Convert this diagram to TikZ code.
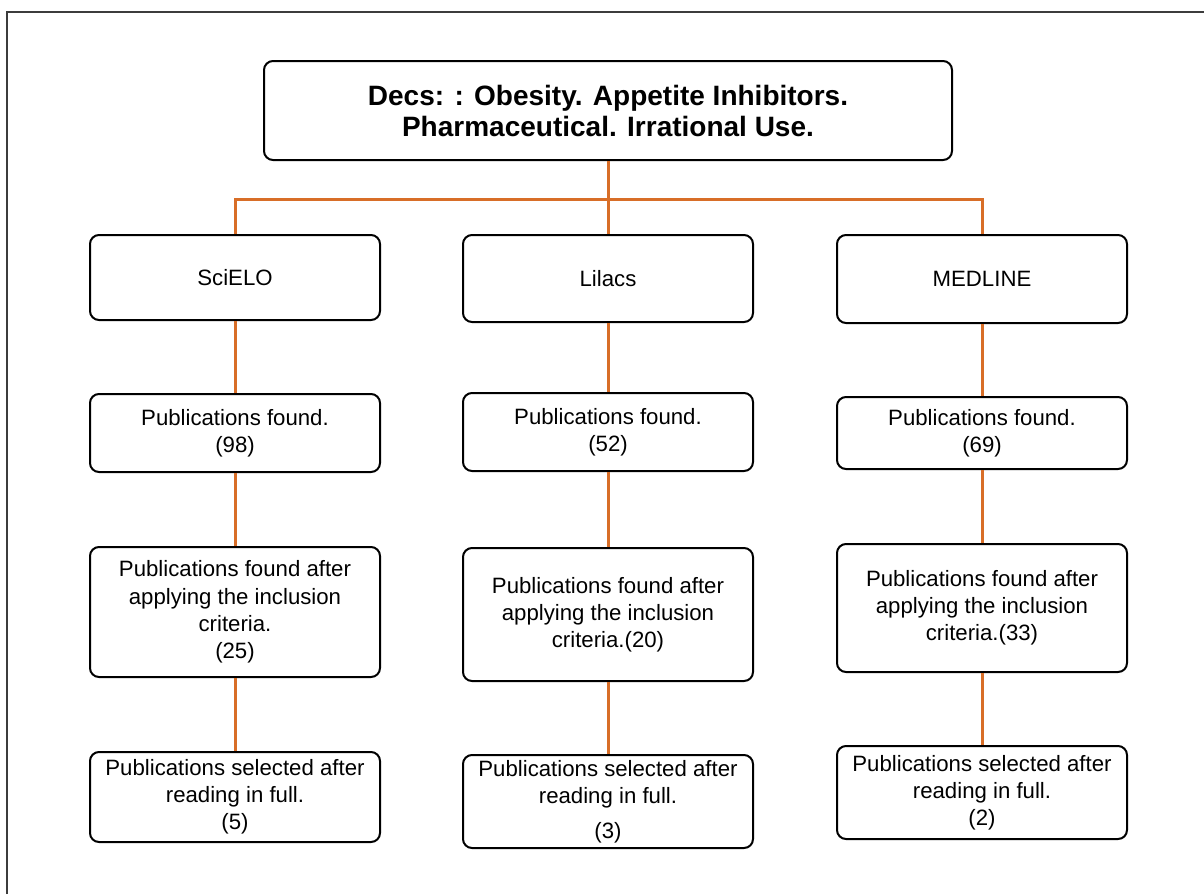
\documentclass[tikz,border=0pt]{standalone}
\usepackage{fontspec}
\setmainfont{Liberation Sans}
\usepackage{tikz}
\usetikzlibrary{positioning}
\usepackage{xcolor}
\definecolor{lkorange}{RGB}{216,110,40}
\definecolor{frgray}{RGB}{60,60,60}
\tikzstyle{box} = [rectangle, rounded corners=4.5pt, draw=black, line width=1pt, fill=white, align=center, inner sep=2pt, minimum width=145pt, font=\fontsize{11.1}{13.6}\selectfont]
\tikzstyle{link} = [line width=1.5pt, color=lkorange]

\begin{document}
\begin{tikzpicture}[x=0.5pt,y=-0.5pt]
\useasboundingbox (0,0) rectangle (1204,894);
% Frame
\draw[frgray, line width=1pt] (7,894) -- (7,12) -- (1204,12);

% Keywords
\node[box, minimum width=344pt, minimum height=49.5pt, font=\fontsize{14}{15.5}\selectfont\bfseries] (dec) at (608,110.5) {Decs: : Obesity. Appetite Inhibitors.\\Pharmaceutical. Irrational Use.};

% Databases
\node[box, minimum height=42.5pt] (sci) at (235,277.5) {SciELO};
\node[box, minimum height=43.5pt] (lil) at (608,278.5) {Lilacs};
\node[box, minimum height=44pt] (med) at (982,279) {MEDLINE};

% Found
\node[box, minimum height=39pt] (sci2) at (235,433) {Publications found.\\(98)};
\node[box, minimum height=39pt] (lil2) at (608,432) {Publications found.\\(52)};
\node[box, minimum height=36pt] (med2) at (982,433) {Publications found.\\(69)};

% Inclusion criteria
\node[box, minimum height=65pt] (sci3) at (235,612) {Publications found after\\applying the inclusion\\criteria.\\(25)};
\node[box, minimum height=66.5pt] (lil3) at (608,614.5) {Publications found after\\applying the inclusion\\criteria.(20)};
\node[box, minimum height=64pt] (med3) at (982,608) {Publications found after\\applying the inclusion\\criteria.(33)};

% Selected
\node[box, minimum height=45pt] (sci4) at (235,797) {Publications selected after\\reading in full.\\(5)};
\node[box, minimum height=46.5pt] (lil4) at (608,801.5) {Publications selected after\\reading in full.\\[4pt](3)};
\node[box, minimum height=46.5pt] (med4) at (982,792.5) {Publications selected after\\reading in full.\\(2)};

% Links
\coordinate (split) at (608,199);
\draw[link] (dec.south) -- (split);
\draw[link] (sci.north) |- (split) -| (med.north);
\draw[link] (split) -- (lil.north);

\draw[link] (sci) -- (sci2);
\draw[link] (sci2) -- (sci3);
\draw[link] (sci3) -- (sci4);
\draw[link] (lil) -- (lil2);
\draw[link] (lil2) -- (lil3);
\draw[link] (lil3) -- (lil4);
\draw[link] (med) -- (med2);
\draw[link] (med2) -- (med3);
\draw[link] (med3) -- (med4);
\end{tikzpicture}
\end{document}
